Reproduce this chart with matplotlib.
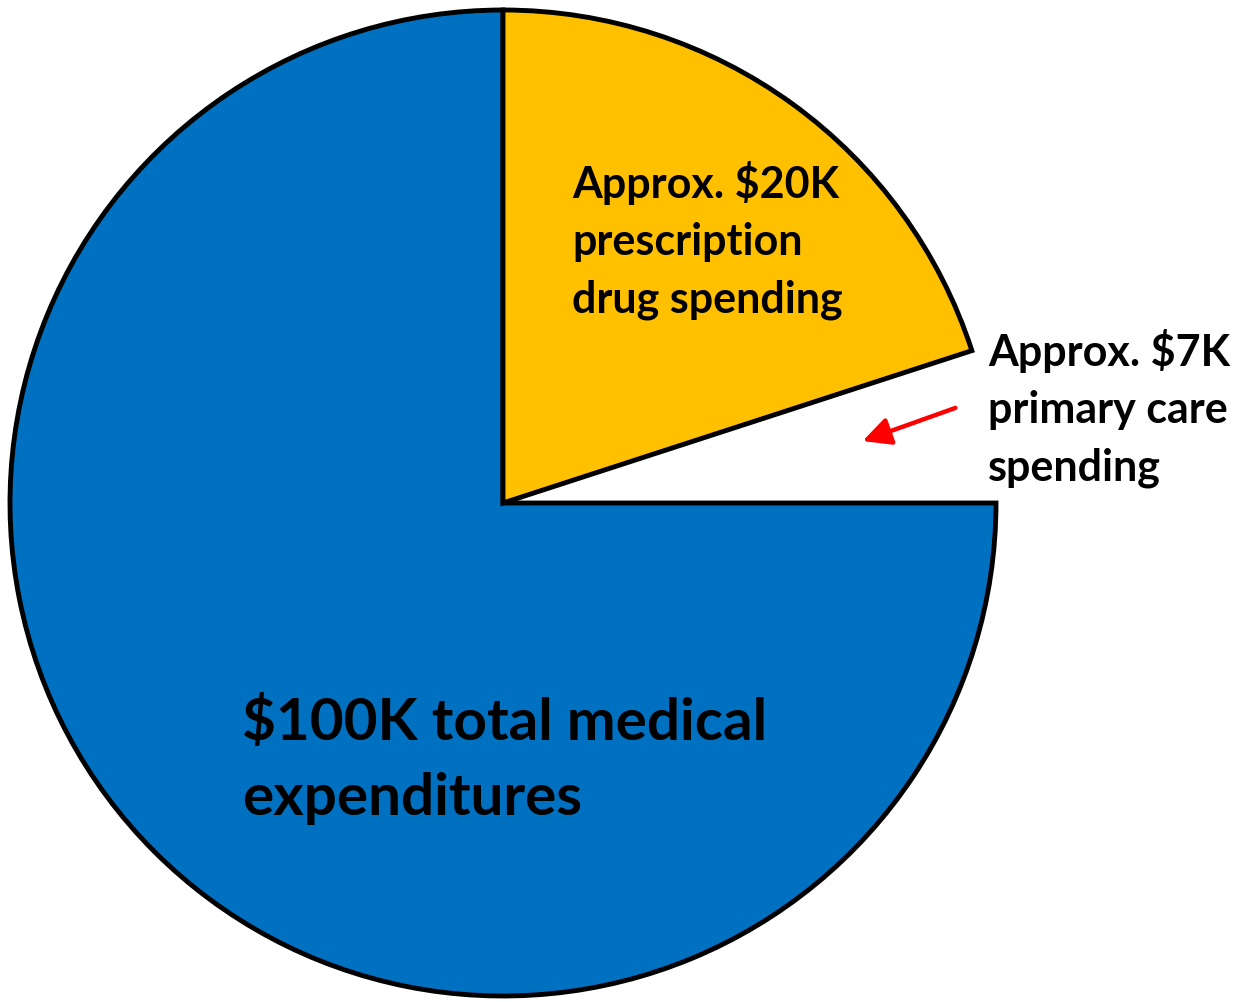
import matplotlib
matplotlib.use("Agg")
import matplotlib.pyplot as plt

# share of total spending, in percent (blue = rest, yellow = drugs, gap = primary care)
shares = [75, 20, 5]
slice_colors = ["#0070C0", "#FFC000", "none"]

big_lines = ["$100K total medical", "expenditures"]
drug_lines = ["Approx. $20K", "prescription", "drug spending"]
primary_lines = ["Approx. $7K", "primary care", "spending"]

plt.rcParams['font.family'] = ['Lato', 'DejaVu Sans']

H = 1002  # picture height in px, text is placed from the top

fig = plt.figure(figsize=(12.45, 10.02), dpi=100)
ax = fig.add_axes([0, 0, 1, 1])

# work in pixel-like units so positions line up with the picture
wedges, _ = ax.pie(shares, colors=slice_colors, startangle=0, counterclock=False,
                   center=(503, 499), radius=493,
                   wedgeprops=dict(edgecolor="black", linewidth=3.5))
wedges[2].set_visible(False)  # primary care slice is left empty

ax.set_xlim(0, 1245)
ax.set_ylim(0, H)
ax.set_aspect("equal")
ax.axis("off")


def put_lines(lines, x, first_baseline, step, size):
    # one text per line so the spacing is easy to control
    for i, line in enumerate(lines):
        ax.text(x, H - (first_baseline + i * step), line, fontsize=size,
                fontweight="bold", va="baseline", ha="left", parse_math=False)


put_lines(drug_lines, 572, 198, 57, 31)
put_lines(primary_lines, 988, 366, 57, 31)
put_lines(big_lines, 242, 740, 75, 42)

# red arrow pointing into the empty slice
ax.annotate("", xy=(860, H - 442), xytext=(958, H - 407),
            arrowprops=dict(arrowstyle="-|>", color="red", lw=3.2, mutation_scale=42))

plt.savefig("out.png", dpi=100)
